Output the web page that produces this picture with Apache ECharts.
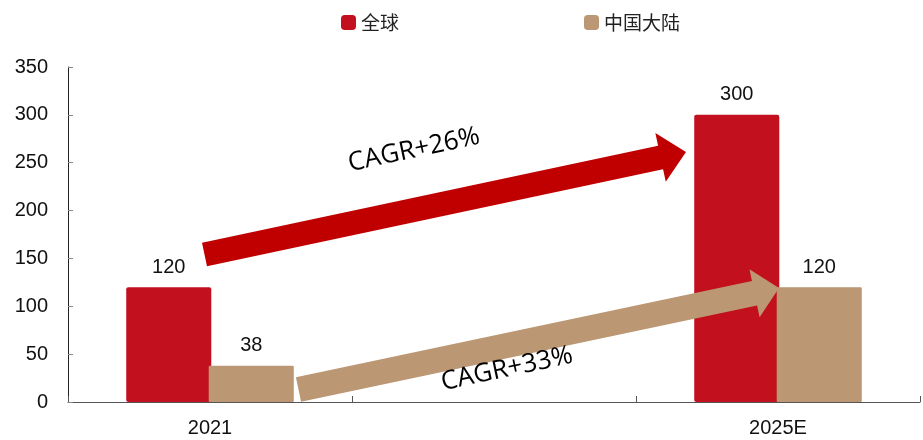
<!DOCTYPE html>
<html>
<head>
<meta charset="utf-8">
<script src="https://cdn.jsdelivr.net/npm/echarts@6/dist/echarts.min.js"></script>
<style>
  html, body { margin: 0; padding: 0; background: #fff; }
  #chart { width: 923px; height: 440px; }
</style>
</head>
<body>
<div id="chart"></div>
<script>
// Market size, 2021 vs 2025E
const categories = ['2021', '', '2025E'];
const globalValues = [120, null, 300];
const chinaValues = [38, null, 120];
const seriesNames = ['全球', '中国大陆'];
const yTicks = { min: 0, max: 350, interval: 50 };
const growthLabels = ['CAGR+26%', 'CAGR+33%'];

const RED = '#C2101F';
const TAN = '#BB9773';
const ARROW_RED = '#C00000';

// Build a block-arrow polygon from tail centre to tip
function arrowPoints(tail, tip, shaftW, headW, headLen) {
  const dx = tip[0] - tail[0], dy = tip[1] - tail[1];
  const L = Math.hypot(dx, dy);
  const ux = dx / L, uy = dy / L;
  const nx = -uy, ny = ux;
  const bx = tip[0] - ux * headLen, by = tip[1] - uy * headLen;
  const p = (x, y, k) => [x + nx * k, y + ny * k];
  return [
    p(tail[0], tail[1], shaftW / 2),
    p(bx, by, shaftW / 2),
    p(bx, by, headW / 2),
    tip,
    p(bx, by, -headW / 2),
    p(bx, by, -shaftW / 2),
    p(tail[0], tail[1], -shaftW / 2)
  ];
}

const chart = echarts.init(document.getElementById('chart'));

const redArrow = arrowPoints([204.5, 254.5], [686, 152], 24, 50, 26);
const tanArrow = arrowPoints([298.5, 389.5], [779, 288], 25, 49, 25);
const tilt = Math.atan2(102, 481);

chart.setOption({
  animation: false,
  grid: { left: 68, right: 3, top: 67, bottom: 38 },
  legend: {
    data: seriesNames,
    left: 336,
    top: 8,
    itemWidth: 15,
    itemHeight: 15,
    itemGap: 185,
    icon: 'roundRect',
    textStyle: {
      fontFamily: 'Noto Sans CJK SC',
      fontSize: 19,
      color: '#222'
    }
  },
  xAxis: {
    type: 'category',
    data: categories,
    axisLine: { lineStyle: { color: '#555', width: 1 } },
    axisTick: { show: true, inside: true, length: 6, lineStyle: { color: '#555' } },
    axisLabel: {
      fontFamily: 'Liberation Sans',
      fontSize: 20,
      color: '#111',
      margin: 16
    }
  },
  yAxis: {
    type: 'value',
    min: yTicks.min,
    max: yTicks.max,
    interval: yTicks.interval,
    axisLine: { show: true, lineStyle: { color: '#222', width: 1 } },
    axisTick: { show: true, inside: true, length: 5, lineStyle: { color: '#888' } },
    splitLine: { show: false },
    axisLabel: {
      fontFamily: 'Liberation Sans',
      fontSize: 20,
      color: '#111',
      margin: 20
    }
  },
  series: [
    {
      name: seriesNames[0],
      type: 'bar',
      data: globalValues,
      barGap: '-3%',
      barCategoryGap: '41%',
      itemStyle: { color: RED, borderRadius: 2 },
      label: {
        show: true,
        position: 'top',
        distance: 10,
        fontFamily: 'Liberation Sans',
        fontSize: 20,
        color: '#111'
      }
    },
    {
      name: seriesNames[1],
      type: 'bar',
      data: chinaValues,
      itemStyle: { color: TAN, borderRadius: 1 },
      label: {
        show: true,
        position: 'top',
        distance: 10,
        fontFamily: 'Liberation Sans',
        fontSize: 20,
        color: '#111'
      }
    }
  ],
  graphic: [
    {
      type: 'polygon',
      z: 100,
      shape: { points: redArrow },
      style: { fill: ARROW_RED }
    },
    {
      type: 'polygon',
      z: 100,
      shape: { points: tanArrow },
      style: { fill: TAN }
    },
    {
      type: 'text',
      z: 101,
      x: 414,
      y: 150,
      rotation: tilt,
      style: {
        text: growthLabels[0],
        fontFamily: 'Open Sans',
        fontSize: 26,
        fill: '#000',
        align: 'center',
        verticalAlign: 'middle'
      }
    },
    {
      type: 'text',
      z: 101,
      x: 507,
      y: 369,
      rotation: tilt,
      style: {
        text: growthLabels[1],
        fontFamily: 'Open Sans',
        fontSize: 26,
        fill: '#000',
        align: 'center',
        verticalAlign: 'middle'
      }
    }
  ]
});
</script>
</body>
</html>
